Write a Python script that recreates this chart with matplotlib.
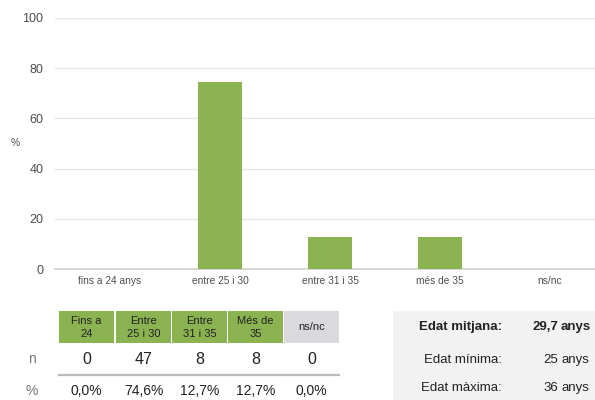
import matplotlib
matplotlib.use("Agg")
import matplotlib.pyplot as plt
from matplotlib.patches import Rectangle

plt.rcParams['font.family'] = ['Liberation Sans', 'DejaVu Sans']

categories = ["fins a 24 anys", "entre 25 i 30", "entre 31 i 35", "més de 35", "ns/nc"]
pct_values = [0.0, 74.6, 12.7, 12.7, 0.0]
n_values = [0, 47, 8, 8, 0]
header_labels = ["Fins a\n24", "Entre\n25 i 30", "Entre\n31 i 35", "Més de\n35", "ns/nc"]
pct_labels = ["0,0%", "74,6%", "12,7%", "12,7%", "0,0%"]
stat_labels = ["Edat mitjana:", "Edat mínima:", "Edat màxima:"]
stat_values = ["29,7 anys", "25 anys", "36 anys"]
y_ticks = [0, 20, 40, 60, 80, 100]

GREEN = "#8BB352"
GREY_HDR = "#D9D9DE"
BOX_BG = "#F2F2F2"
TXT = "#222222"
TICK = "#4D4D4D"

W, H = 595, 400
fig = plt.figure(figsize=(W / 100, H / 100), dpi=100)

# main bar chart axes (pixel based placement)
left, right, top, bottom = 55, 605, 18, 269
ax = fig.add_axes([left / W, 1 - bottom / H, (right - left) / W, (bottom - top) / H])
x = list(range(len(categories)))
ax.bar(x, pct_values, width=0.4, color=GREEN, zorder=3)
ax.set_xlim(-0.5, len(categories) - 0.5)
ax.set_ylim(0, 100)
ax.set_yticks(y_ticks)
ax.set_yticklabels([str(t) for t in y_ticks], fontsize=9, color=TICK)
ax.set_xticks(x)
ax.set_xticklabels(categories, fontsize=7.3, color=TICK)
ax.tick_params(axis='y', length=0, pad=8.5)
ax.tick_params(axis='x', length=0, pad=5)
ax.grid(axis='y', color="#E6E6E6", linewidth=1, zorder=0)
for s in ["top", "right", "left"]:
    ax.spines[s].set_visible(False)
ax.spines["bottom"].set_color("#CFCFCF")
ax.spines["bottom"].set_linewidth(1.2)

# overlay axes in pixel coordinates for table and stats box
ov = fig.add_axes([0, 0, 1, 1])
ov.set_xlim(0, W)
ov.set_ylim(H, 0)
ov.axis("off")

ov.text(15, 143, "%", ha="center", va="center", fontsize=7.5, color=TICK)

col_x0 = [59, 116, 172, 228, 284]
col_w = 55
hdr_top, hdr_bot = 311, 343
for i, (cx, lab) in enumerate(zip(col_x0, header_labels)):
    color = GREY_HDR if i == len(header_labels) - 1 else GREEN
    ov.add_patch(Rectangle((cx, hdr_top), col_w, hdr_bot - hdr_top, color=color, lw=0))
    ov.text(cx + col_w / 2, (hdr_top + hdr_bot) / 2 + 0.5, lab, ha="center", va="center",
            fontsize=8, color=TXT, linespacing=1.3)
    ov.text(cx + col_w / 2, 359, str(n_values[i]), ha="center", va="center",
            fontsize=11.5, color=TXT)
    ov.text(cx + col_w / 2, 391, pct_labels[i], ha="center", va="center",
            fontsize=10, color=TXT)

ov.text(32, 359, "n", ha="center", va="center", fontsize=10, color="#777777")
ov.text(32, 391, "%", ha="center", va="center", fontsize=10, color="#777777")
ov.plot([59, 339], [375, 375], color="#BBBBBB", lw=1.6)

# stats box
ov.add_patch(Rectangle((393, 311), W - 393, H - 311, color=BOX_BG, lw=0))
stat_y = [327, 360, 388]
for i, (lab, val) in enumerate(zip(stat_labels, stat_values)):
    weight = "bold" if i == 0 else "normal"
    num, unit = val.split(" ")
    ov.text(502, stat_y[i], lab, ha="right", va="center", fontsize=9.5,
            color=TXT, fontweight=weight)
    ov.text(561, stat_y[i], unit, ha="left", va="center", fontsize=9.5,
            color=TXT, fontweight=weight)
    ov.text(558, stat_y[i], num, ha="right", va="center", fontsize=9.5,
            color=TXT, fontweight=weight)

fig.savefig("out.png", dpi=100)
